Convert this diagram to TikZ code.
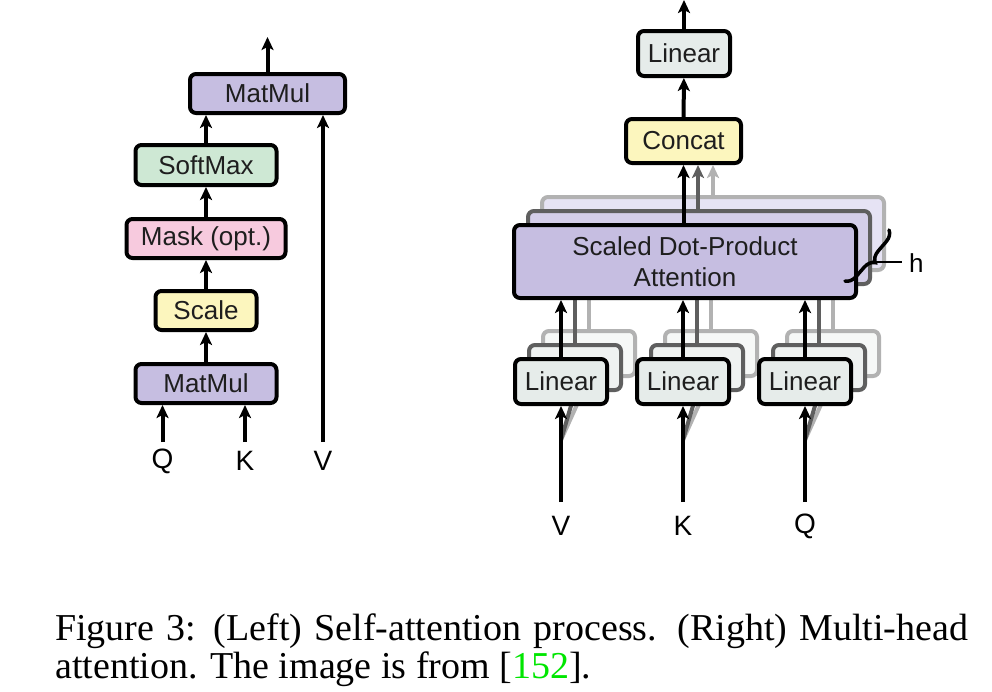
\documentclass[tikz,border=0pt]{standalone}
\usepackage{fontspec}
\setmainfont{Liberation Serif}
\newfontfamily\diafont{Liberation Sans}
\usetikzlibrary{arrows.meta,decorations.pathreplacing}
\definecolor{matc}{RGB}{198,190,225}
\definecolor{matm}{RGB}{212,206,233}
\definecolor{matb}{RGB}{230,227,244}
\definecolor{smc}{RGB}{206,232,212}
\definecolor{mkc}{RGB}{247,202,222}
\definecolor{scc}{RGB}{252,246,190}
\definecolor{linc}{RGB}{230,236,234}
\definecolor{linm}{RGB}{239,242,241}
\definecolor{linb}{RGB}{246,248,247}
\definecolor{midg}{RGB}{95,95,95}
\definecolor{backg}{RGB}{178,178,178}
\definecolor{txtc}{RGB}{30,30,30}
\definecolor{citec}{RGB}{0,230,0}
\tikzset{
  box/.style={draw=black, line width=4pt, rounded corners=6pt, inner sep=0pt,
    font=\diafont\fontsize{26}{31}\selectfont, text=txtc, align=center},
  midbox/.style={box, draw=midg},
  backbox/.style={box, draw=backg},
  lbl/.style={inner sep=0pt, font=\diafont\fontsize{28}{32}\selectfont, text=black},
  arr/.style={line width=4pt, draw=black, -{Stealth[length=13pt,width=12pt,inset=3pt]}},
  midarr/.style={arr, draw=midg, -{Stealth[length=13pt,width=12pt,inset=3pt,fill=midg]}},
  backarr/.style={arr, draw=backg, -{Stealth[length=13pt,width=12pt,inset=3pt,fill=backg]}},
  linbox/.style={minimum width=92pt, minimum height=45pt},
  sdpbox/.style={minimum width=342pt, minimum height=73pt},
}
\begin{document}
\begin{tikzpicture}[x=1pt,y=-1pt]
\useasboundingbox[fill=white] (0,0) rectangle (992,691);

% ---------------- Left: scaled dot-product attention
\node[box, fill=matc, minimum width=155pt, minimum height=39pt] (mmtop) at (267.5,93.5) {MatMul};
\node[box, fill=smc, minimum width=141pt, minimum height=40pt] (soft) at (206,165) {SoftMax};
\node[box, fill=mkc, minimum width=159pt, minimum height=39pt] (mask) at (206,238.5) {Mask (opt.)};
\node[box, fill=scc, minimum width=101pt, minimum height=39pt] (scale) at (206,310.5) {Scale};
\node[box, fill=matc, minimum width=141pt, minimum height=39pt] (mmbot) at (206,383.5) {MatMul};
\coordinate (outl) at (267.5,37);
\node[lbl] (ql) at (162.5,461) {Q};
\node[lbl] (kl) at (245,461) {K};
\node[lbl] (vl) at (323,461) {V};
\coordinate (qin) at (162.5,442);
\coordinate (kin) at (245,442);
\coordinate (vin) at (323,442);

\draw[arr] (mmbot) -- (scale);
\draw[arr] (scale) -- (mask);
\draw[arr] (mask) -- (soft);
\draw[arr] (soft.north) -- (soft.north |- mmtop.south);
\draw[arr] (mmtop) -- (outl);
\draw[arr] (qin) -- (qin |- mmbot.south);
\draw[arr] (kin) -- (kin |- mmbot.south);
\draw[arr] (vin) -- (vin |- mmtop.south);

% ---------------- Right: multi-head attention
\node[box, fill=linc, linbox] (lintop) at (684,53.5) {Linear};
\node[box, fill=scc, minimum width=115pt, minimum height=44pt] (concat) at (683.5,141) {Concat};
\coordinate (outr) at (684,0);
\draw[arr] (lintop) -- (outr);
\draw[arr] (concat) -- (lintop);

% inputs
\coordinate (vr) at (561,502);
\coordinate (kr) at (683,502);
\coordinate (qr) at (805,502);
\coordinate (vrs) at (561,440);
\coordinate (krs) at (683,440);
\coordinate (qrs) at (805,440);
\node[lbl] (vlab) at (561,526) {V};
\node[lbl] (klab) at (683,526) {K};
\node[lbl] (qlab) at (805,526) {Q};

% back layer (head 3)
\node[backbox, fill=matb, sdpbox] (sdp3) at (713,233.5) {};
\node[backbox, fill=linb, linbox] (lv3) at (589,353.5) {};
\node[backbox, fill=linb, linbox] (lk3) at (711,353.5) {};
\node[backbox, fill=linb, linbox] (lq3) at (833,353.5) {};
\draw[backarr] (lv3.north) -- (lv3.north |- sdp3.south);
\draw[backarr] (lk3.north) -- (lk3.north |- sdp3.south);
\draw[backarr] (lq3.north) -- (lq3.north |- sdp3.south);
\draw[backarr] (sdp3.north -| 713,0) -- (713,0 |- concat.south);
\draw[backarr] (vrs) -- (lv3.south);
\draw[backarr] (krs) -- (lk3.south);
\draw[backarr] (qrs) -- (lq3.south);

% middle layer (head 2)
\node[midbox, fill=matm, sdpbox] (sdp2) at (699,247.5) {};
\node[midbox, fill=linm, linbox] (lv2) at (575,367.5) {};
\node[midbox, fill=linm, linbox] (lk2) at (697,367.5) {};
\node[midbox, fill=linm, linbox] (lq2) at (819,367.5) {};
\draw[midarr] (lv2.north) -- (lv2.north |- sdp2.south);
\draw[midarr] (lk2.north) -- (lk2.north |- sdp2.south);
\draw[midarr] (lq2.north) -- (lq2.north |- sdp2.south);
\draw[midarr] (sdp2.north -| 698,0) -- (698,0 |- concat.south);
\draw[midarr] (vrs) -- (lv2.south);
\draw[midarr] (krs) -- (lk2.south);
\draw[midarr] (qrs) -- (lq2.south);

% front layer (head 1)
\node[box, fill=matc, sdpbox] (sdp1) at (685,261.5) {Scaled Dot-Product\\Attention};
\node[box, fill=linc, linbox] (lv1) at (561,381.5) {Linear};
\node[box, fill=linc, linbox] (lk1) at (683,381.5) {Linear};
\node[box, fill=linc, linbox] (lq1) at (805,381.5) {Linear};
\draw[arr] (lv1.north) -- (lv1.north |- sdp1.south);
\draw[arr] (lk1.north) -- (lk1.north |- sdp1.south);
\draw[arr] (lq1.north) -- (lq1.north |- sdp1.south);
\draw[arr] (sdp1.north -| concat.south) -- (concat.south);
\draw[arr] (vr) -- (lv1.south);
\draw[arr] (kr) -- (lk1.south);
\draw[arr] (qr) -- (lq1.south);

% brace and h
\coordinate (bt) at (889,230);
\coordinate (bb) at (845,281);
\coordinate (htip) at (877,262);
\coordinate (hend) at (902,262);
\draw[line width=3.5pt, line cap=round, decorate, decoration={brace, amplitude=11pt}] (bt) -- (bb);
\draw[line width=2.2pt] (htip) -- (hend);
\node[lbl, anchor=west, font=\diafont\fontsize{26}{30}\selectfont] (hlab) at (909,263) {h};

% ---------------- Caption
\node[anchor=base west, inner sep=0pt, font=\fontsize{38}{44}\selectfont] (cap1) at (55,640)
  {\makebox[913pt][s]{Figure 3: (Left) Self-attention process. (Right) Multi-head}};
\node[anchor=base west, inner sep=0pt, font=\fontsize{38}{44}\selectfont] (cap2) at (55,678)
  {attention. The image is from [\textcolor{citec}{152}].};
\end{tikzpicture}
\end{document}
